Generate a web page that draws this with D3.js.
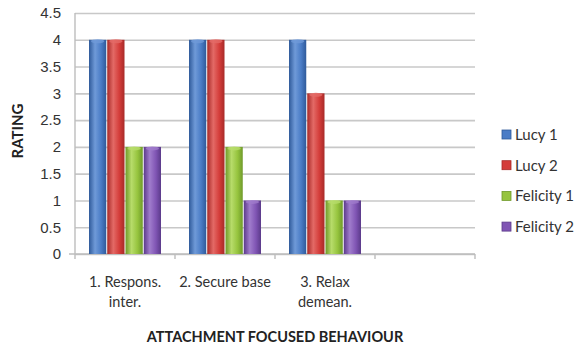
<!DOCTYPE html>
<html>
<head>
<meta charset="utf-8">
<script src="https://cdn.jsdelivr.net/npm/d3@7"></script>
<style>
  body { margin: 0; background: #fff; }
  svg { font-family: Lato, "Open Sans", sans-serif; }
</style>
</head>
<body>
<svg id="chart" width="580" height="347"></svg>
<script>
const categories = [["1. Respons.", "inter."], ["2. Secure base"], ["3. Relax", "demean."], [""]];
const series = ["Lucy 1", "Lucy 2", "Felicity 1", "Felicity 2"];
const lucy1 = [4, 4, 4, null];
const lucy2 = [4, 4, 3, null];
const felicity1 = [2, 2, 1, null];
const felicity2 = [2, 1, 1, null];
const yTicks = [0, 0.5, 1, 1.5, 2, 2.5, 3, 3.5, 4, 4.5];

const values = [lucy1, lucy2, felicity1, felicity2];
const colors = [
  {dark: "#2f5a9a", mid: "#4a7cc6", light: "#6f9ad8"},
  {dark: "#a82a28", mid: "#d43d3a", light: "#e36a66"},
  {dark: "#6f9a2a", mid: "#96c43e", light: "#b7dc6a"},
  {dark: "#5b3a8a", mid: "#8055b4", light: "#a07ccc"}
];

const svg = d3.select("#chart");
const margin = {top: 13, left: 75, right: 105, bottom: 93};
const width = 580, height = 347;
const innerW = width - margin.left - margin.right;
const innerH = height - margin.top - margin.bottom;

const defs = svg.append("defs");
colors.forEach((c, i) => {
  const g = defs.append("linearGradient").attr("id", "grad" + i)
    .attr("x1", "0%").attr("x2", "100%").attr("y1", "0%").attr("y2", "0%");
  g.append("stop").attr("offset", "0%").attr("stop-color", c.dark);
  g.append("stop").attr("offset", "35%").attr("stop-color", c.light);
  g.append("stop").attr("offset", "70%").attr("stop-color", c.mid);
  g.append("stop").attr("offset", "100%").attr("stop-color", c.dark);
});

const g = svg.append("g").attr("transform", `translate(${margin.left},${margin.top})`);

const x = d3.scaleBand().domain(d3.range(categories.length)).range([0, innerW]);
const x1 = d3.scaleBand().domain(d3.range(series.length)).range([13.5, x.bandwidth() - 13.5]);
const y = d3.scaleLinear().domain([0, 4.5]).range([innerH, 0]);

// gridlines + y axis
const yAxis = d3.axisLeft(y).tickValues(yTicks).tickSize(-innerW).tickPadding(14)
  .tickFormat(d => d3.format("")(d));
const yG = g.append("g").call(yAxis);
yG.select(".domain").remove();
yG.selectAll(".tick line").attr("stroke", "#c8c8c8").attr("stroke-width", 1.6);
yG.selectAll(".tick text").attr("font-size", 15).attr("fill", "#333");

// left axis line
g.append("line").attr("x1", 0).attr("x2", 0).attr("y1", 0).attr("y2", innerH)
  .attr("stroke", "#bdbdbd").attr("stroke-width", 1.4);

// x axis
const xG = g.append("g").attr("transform", `translate(0,${innerH})`);
xG.append("line").attr("x1", -6).attr("x2", innerW).attr("stroke", "#bdbdbd").attr("stroke-width", 1.6);
xG.selectAll(".xt").data(d3.range(categories.length + 1)).enter().append("line")
  .attr("x1", d => d * x.bandwidth()).attr("x2", d => d * x.bandwidth())
  .attr("y1", 0).attr("y2", 5).attr("stroke", "#bdbdbd").attr("stroke-width", 1.4);
xG.selectAll(".xl").data(categories).enter().append("text")
  .attr("x", (d, i) => x(i) + x.bandwidth() / 2)
  .attr("y", 33).attr("text-anchor", "middle").attr("font-size", 14.5).attr("fill", "#333")
  .selectAll("tspan").data(d => d).enter().append("tspan")
  .attr("x", function() { return d3.select(this.parentNode).attr("x"); })
  .attr("dy", (d, i) => i === 0 ? 0 : 20).text(d => d);

// bars
values.forEach((vals, si) => {
  const sg = g.append("g");
  const data = vals.map((v, ci) => ({v, ci})).filter(d => d.v != null);
  sg.selectAll("rect").data(data).enter().append("rect")
    .attr("x", d => x(d.ci) + x1(si) + 0.5)
    .attr("width", x1.bandwidth() - 1)
    .attr("y", d => y(d.v))
    .attr("height", d => innerH - y(d.v))
    .attr("fill", `url(#grad${si})`);
  sg.selectAll("ellipse").data(data).enter().append("ellipse")
    .attr("cx", d => x(d.ci) + x1(si) + x1.bandwidth() / 2)
    .attr("cy", d => y(d.v) + 1.5)
    .attr("rx", x1.bandwidth() / 2 - 2.5).attr("ry", 2)
    .attr("fill", colors[si].light).attr("opacity", 0.8);
});

// axis titles
svg.append("text").attr("transform", `translate(23,131) rotate(-90)`)
  .attr("text-anchor", "middle").attr("font-size", 15).attr("font-weight", "bold").attr("fill", "#222")
  .text("RATING");
svg.append("text").attr("x", 275).attr("y", 342)
  .attr("text-anchor", "middle").attr("font-size", 14.5).attr("font-weight", "bold").attr("fill", "#222")
  .text("ATTACHMENT FOCUSED BEHAVIOUR");

// legend
const legend = svg.append("g").attr("transform", "translate(502,130)");
series.forEach((s, i) => {
  const lg = legend.append("g").attr("transform", `translate(0,${i * 30.7})`);
  lg.append("rect").attr("x", 0).attr("y", 0).attr("width", 9).attr("height", 9)
    .attr("fill", colors[i].mid).attr("stroke", colors[i].dark).attr("stroke-width", 0.8);
  lg.append("text").attr("x", 13).attr("y", 10).attr("font-size", 15).attr("fill", "#333").text(s);
});
</script>
</body>
</html>
